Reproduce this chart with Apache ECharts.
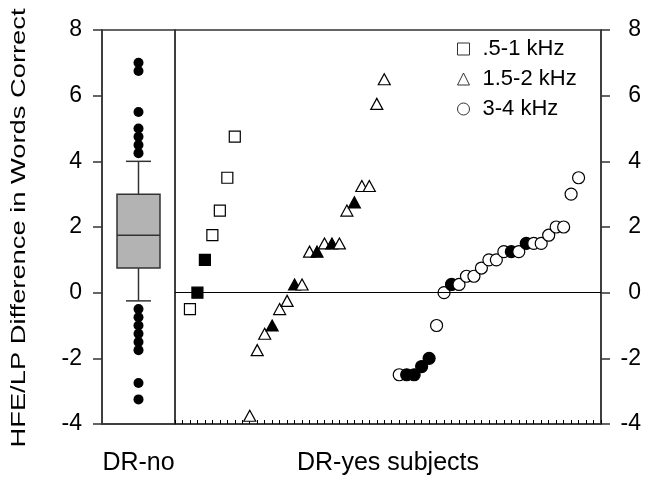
<!DOCTYPE html>
<html>
<head>
<meta charset="utf-8">
<script src="https://cdn.jsdelivr.net/npm/echarts@6/dist/echarts.min.js"></script>
<style>html,body{margin:0;padding:0;background:#fff;}#chart{width:660px;height:481px;}</style>
</head>
<body>
<div id="chart"></div>
<script>
// ---- data ----
const yTickValues = [-4, -2, 0, 2, 4, 6, 8];
const legendNames = ['.5-1 kHz', '1.5-2 kHz', '3-4 kHz'];
const groupLabels = ['DR-no', 'DR-yes subjects'];
const yTitle = 'HFE/LP Difference in Words Correct';

// DR-no box plot: [lower whisker, Q1, median, Q3, upper whisker]
const drNoBox = [-0.25, 0.75, 1.75, 3, 4];
const drNoOutliers = [7, 6.75, 5.5, 5, 4.75, 4.5, 4.25, -0.5, -0.75, -1, -1.25, -1.5, -1.75, -2.75, -3.25];

// DR-yes subjects
const sqSubjects = [2, 3, 4, 5, 6, 7, 8];
const sqValues = [-0.5, 0, 1, 1.75, 2.5, 3.5, 4.75];
const sqFilled = [0, 1, 1, 0, 0, 0, 0];

const triSubjects = [10, 11, 12, 13, 14, 15, 16, 17, 18, 19, 20, 21, 22, 23, 24, 25, 26, 27, 28];
const triValues = [-3.75, -1.75, -1.25, -1, -0.5, -0.25, 0.25, 0.25, 1.25, 1.25, 1.5, 1.5, 1.5, 2.5, 2.75, 3.25, 3.25, 5.75, 6.5];
const triFilled = [0, 0, 0, 1, 0, 0, 1, 0, 0, 1, 0, 1, 0, 0, 1, 0, 0, 0, 0];

const cirSubjects = [30, 31, 32, 33, 34, 35, 36, 37, 38, 39, 40, 41, 42, 43, 44, 45, 46, 47, 48, 49, 50, 51, 52, 53, 54];
const cirValues = [-2.5, -2.5, -2.5, -2.25, -2, -1, 0, 0.25, 0.25, 0.5, 0.5, 0.75, 1, 1, 1.25, 1.25, 1.25, 1.5, 1.5, 1.5, 1.75, 2, 2, 3, 3.5];
const cirFilled = [0, 1, 1, 1, 1, 0, 0, 1, 0, 0, 0, 0, 0, 0, 0, 1, 0, 1, 0, 0, 0, 0, 0, 0, 0];

const subjectMax = 57;

// ---- chart ----
const FONT = 'Liberation Sans, Arial, Helvetica, sans-serif';
const AXIS = '#333';

function pts(xs, ys, filled) {
  return xs.map((x, i) => ({
    value: [x, ys[i]],
    itemStyle: filled[i] ? { color: '#000', borderColor: '#000', opacity: 1 } : undefined
  }));
}

const markerStyle = { color: '#fff', borderColor: '#000', borderWidth: 1.2, opacity: 1 };

const yMin = yTickValues[0], yMax = yTickValues[yTickValues.length - 1];
const yInterval = yTickValues[1] - yTickValues[0];

function yAxisDef(gridIndex, position, labelOpts) {
  return {
    type: 'value', gridIndex, position, min: yMin, max: yMax, interval: yInterval,
    axisLine: { show: true, onZero: false, lineStyle: { color: AXIS, width: 1.5 } },
    axisTick: { show: true, inside: false, length: 9, lineStyle: { color: AXIS, width: 1.5 } },
    axisLabel: Object.assign({ fontSize: 23, color: '#000', fontFamily: FONT }, labelOpts),
    splitLine: { show: false }
  };
}

const chart = echarts.init(document.getElementById('chart'), null, { renderer: 'canvas' });
chart.setOption({
  animation: false,
  backgroundColor: '#fff',
  grid: [
    { left: 102, top: 30, width: 73, height: 396, show: true, borderColor: AXIS, borderWidth: 1.5, containLabel: false },
    { left: 175, top: 30, width: 426, height: 396, show: true, borderColor: AXIS, borderWidth: 1.5, containLabel: false }
  ],
  xAxis: [
    {
      type: 'value', gridIndex: 0, min: 0, max: 2,
      axisLine: { show: true, onZero: false, lineStyle: { color: AXIS, width: 1.5 } },
      axisTick: { show: false }, axisLabel: { show: false }, splitLine: { show: false },
      name: groupLabels[0], nameLocation: 'middle', nameGap: 27,
      nameTextStyle: { fontSize: 25, color: '#000', fontFamily: FONT }
    },
    {
      type: 'value', gridIndex: 1, min: 0, max: subjectMax, interval: 1,
      axisLine: { show: true, onZero: false, lineStyle: { color: AXIS, width: 1.5 } },
      axisTick: { show: true, inside: true, length: 4, lineStyle: { color: '#000', width: 1 } },
      axisLabel: { show: false }, splitLine: { show: false },
      name: groupLabels[1], nameLocation: 'middle', nameGap: 27,
      nameTextStyle: { fontSize: 25, color: '#000', fontFamily: FONT }
    }
  ],
  yAxis: [
    yAxisDef(0, 'left', { margin: 20 }),
    yAxisDef(1, 'right', { margin: 40, align: 'right' })
  ],
  legend: {
    orient: 'vertical', left: 452, top: 33, itemWidth: 12, itemHeight: 12, itemGap: 8,
    itemStyle: { color: '#fff', borderColor: '#333', borderWidth: 1 },
    textStyle: { fontSize: 22, color: '#000', fontFamily: FONT, padding: [0, 0, 0, 8] },
    data: legendNames
  },
  graphic: [{
    type: 'text', x: 19, y: 228, rotation: Math.PI / 2, scaleX: 1.3,
    style: { text: yTitle, fontSize: 21, fontFamily: FONT, fill: '#000', align: 'center', verticalAlign: 'middle', textAlign: 'center', textVerticalAlign: 'middle' }
  }],
  series: [
    {
      type: 'custom', xAxisIndex: 0, yAxisIndex: 0, silent: true,
      data: [[1].concat(drNoBox)],
      encode: { x: 0, y: [1, 2, 3, 4, 5] },
      renderItem: function (params, api) {
        const x = api.value(0);
        const pLow = api.coord([x, api.value(1)]);
        const pQ1 = api.coord([x, api.value(2)]);
        const pMed = api.coord([x, api.value(3)]);
        const pQ3 = api.coord([x, api.value(4)]);
        const pHigh = api.coord([x, api.value(5)]);
        const half = 21.5, cap = 12.5, cx = pMed[0];
        const ls = { stroke: AXIS, lineWidth: 1.5 };
        return {
          type: 'group',
          children: [
            { type: 'line', shape: { x1: cx, y1: pLow[1], x2: cx, y2: pQ1[1] }, style: ls },
            { type: 'line', shape: { x1: cx, y1: pQ3[1], x2: cx, y2: pHigh[1] }, style: ls },
            { type: 'line', shape: { x1: cx - cap, y1: pLow[1], x2: cx + cap, y2: pLow[1] }, style: ls },
            { type: 'line', shape: { x1: cx - cap, y1: pHigh[1], x2: cx + cap, y2: pHigh[1] }, style: ls },
            { type: 'rect', shape: { x: cx - half, y: pQ3[1], width: 2 * half, height: pQ1[1] - pQ3[1] }, style: { fill: '#b3b3b3', stroke: AXIS, lineWidth: 1.5 } },
            { type: 'line', shape: { x1: cx - half, y1: pMed[1], x2: cx + half, y2: pMed[1] }, style: ls }
          ]
        };
      }
    },
    {
      type: 'scatter', xAxisIndex: 0, yAxisIndex: 0, silent: true,
      symbol: 'circle', symbolSize: 10, itemStyle: { color: '#000', opacity: 1 },
      data: drNoOutliers.map(v => [1, v])
    },
    {
      name: legendNames[0], type: 'scatter', xAxisIndex: 1, yAxisIndex: 1,
      symbol: 'rect', symbolSize: 11, itemStyle: markerStyle,
      data: pts(sqSubjects, sqValues, sqFilled),
      markLine: {
        silent: true, symbol: 'none', label: { show: false },
        lineStyle: { color: '#000', width: 1.2, type: 'solid' },
        data: [{ yAxis: 0 }]
      }
    },
    {
      name: legendNames[1], type: 'scatter', xAxisIndex: 1, yAxisIndex: 1,
      symbol: 'triangle', symbolSize: [12, 11], itemStyle: markerStyle,
      data: pts(triSubjects, triValues, triFilled)
    },
    {
      name: legendNames[2], type: 'scatter', xAxisIndex: 1, yAxisIndex: 1,
      symbol: 'circle', symbolSize: 12, itemStyle: markerStyle,
      data: pts(cirSubjects, cirValues, cirFilled)
    }
  ]
});
</script>
</body>
</html>
